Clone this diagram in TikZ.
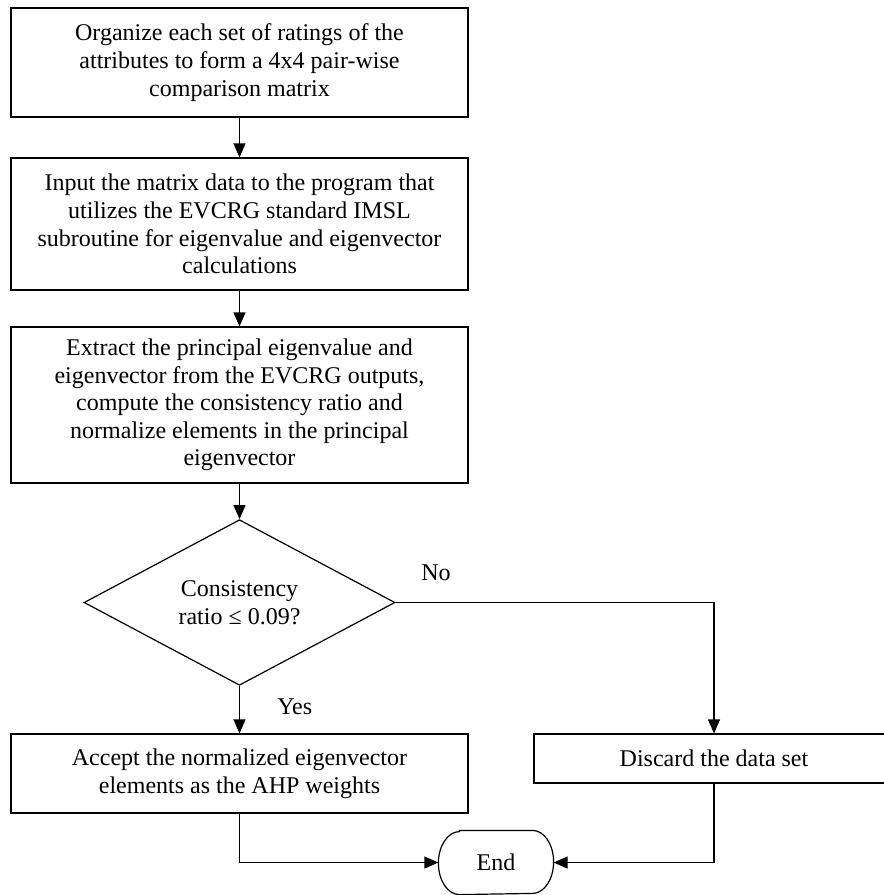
\documentclass[tikz,border=0pt]{standalone}
\usepackage{fontspec}
\setmainfont{Liberation Serif}
\usetikzlibrary{shapes.geometric,arrows.meta}

\begin{document}
\begin{tikzpicture}[x=0.5pt,y=-0.5pt,line width=0.6pt,
    font=\fontsize{12}{13.8}\selectfont,
    hop/.style={draw,rectangle,align=center,inner sep=0pt,minimum width=228.5pt},
    thoi/.style={draw,diamond,align=center,inner sep=0pt,minimum width=155.5pt,minimum height=79.5pt},
    mui/.style={-{Triangle[length=7pt,width=6pt]}}]
    % Khung hình
    \useasboundingbox (0,0) rectangle (884,895);
    \clip (0,0) rectangle (884,895);
    
    % Vẽ các hộp
    \node[hop,minimum height=54.5pt] (sapxep) at (239.5,62.5) {Organize each set of ratings of the\\attributes to form a 4x4 pair-wise\\comparison matrix};
    \node[hop,minimum height=66pt] (nhap) at (239.5,224) {Input the matrix data to the program that\\utilizes the EVCRG standard IMSL\\subroutine for eigenvalue and eigenvector\\calculations};
    \node[hop,minimum height=78pt] (trich) at (239.5,405) {Extract the principal eigenvalue and\\eigenvector from the EVCRG outputs,\\compute the consistency ratio and\\normalize elements in the principal\\eigenvector};
    
    % Khối điều kiện
    \node[thoi] (kiemtra) at (239.5,602.5) {Consistency\\ratio ≤ 0.09?};
    
    \node[hop,minimum height=39.5pt] (chapnhan) at (239.5,773.5) {Accept the normalized eigenvector\\elements as the AHP weights};
    \node[hop,minimum width=180pt,minimum height=24.5pt] (loai) at (714,758.5) {Discard the data set};
    
    % Nút kết thúc
    \node[minimum width=57pt,minimum height=31.5pt,inner sep=0pt] (ketthuc) at (496,862.5) {End};
    \draw ([xshift=10.5pt]ketthuc.north west) -- ([xshift=-10.5pt]ketthuc.north east)
        arc[start angle=90,end angle=-90,x radius=10.5pt,y radius=15.75pt]
        -- ([xshift=10.5pt]ketthuc.south west)
        arc[start angle=270,end angle=90,x radius=10.5pt,y radius=15.75pt] -- cycle;
    
    % Vẽ mũi tên
    \foreach \a/\b in {sapxep/nhap,nhap/trich,trich/kiemtra,kiemtra/chapnhan}
    \draw[mui] (\a.south) -- (\b.north);
    \draw[mui] (kiemtra.east) -| (loai.north);
    \draw[mui] (chapnhan.south) |- (ketthuc.west);
    \draw[mui] (loai.south) |- (ketthuc.east);
    
    % Nhãn
    \node[anchor=west] (co) at (270,707) {Yes};
    \node[anchor=west] (khong) at (414,573) {No};
\end{tikzpicture}
\end{document}
